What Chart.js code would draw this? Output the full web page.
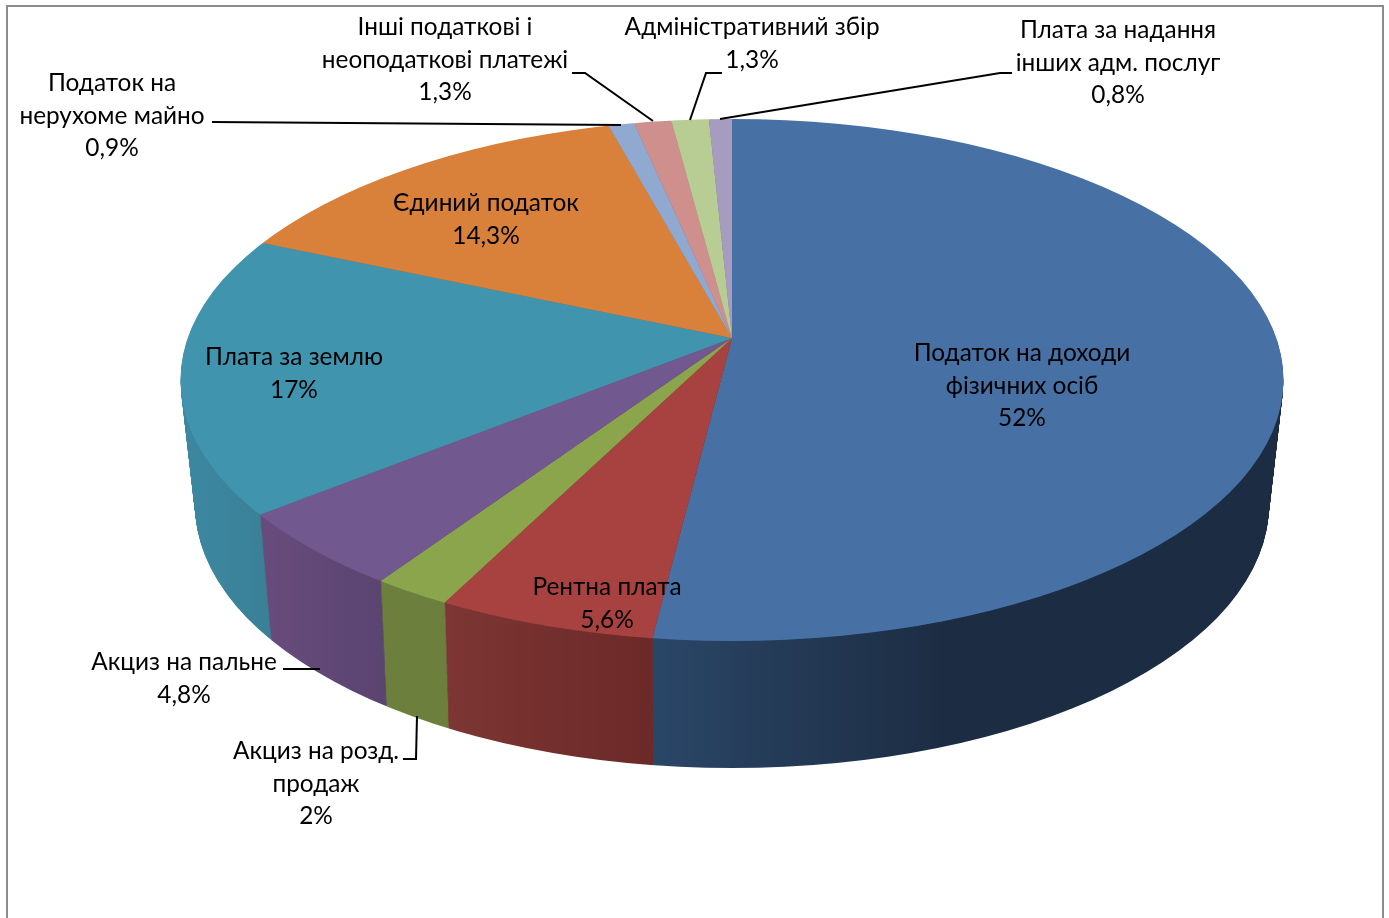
<!DOCTYPE html>
<html>
<head>
<meta charset="utf-8">
<title>Структура доходів</title>
<script src="https://cdn.jsdelivr.net/npm/chart.js@4"></script>
<style>
  html, body { margin: 0; padding: 0; background: #fff; }
  canvas { display: block; }
</style>
</head>
<body>
<canvas id="pieChart" width="1389" height="918"></canvas>
<script>
// Data
const categories = [
    ['Податок на доходи', 'фізичних осіб'],
    ['Рентна плата'],
    ['Акциз на розд.', 'продаж'],
    ['Акциз на пальне'],
    ['Плата за землю'],
    ['Єдиний податок'],
    ['Податок на', 'нерухоме майно'],
    ['Інші податкові і', 'неоподаткові платежі'],
    ['Адміністративний збір'],
    ['Плата за надання', 'інших адм. послуг']
];
const shares = [52, 5.6, 2, 4.8, 17, 14.3, 0.9, 1.3, 1.3, 0.8];

// Colours of the top face and of the side wall (left to right shade)
const topColors = ['#4771a5', '#a74240', '#8aa54b', '#71588f', '#4094ae', '#d9803a', '#8fa9d0', '#cf8f8d', '#b8cd93', '#a89bc0'];
const wallShades = [
    [655, 950, '#2a4667', '#1c2c42'],
    [443, 655, '#7d3634', '#6b2927'],
    [385, 450, '#6c7f3c', '#6c7f3c'],
    [267, 385, '#674b7c', '#5a4470'],
    [185, 267, '#3c88a1', '#3a8097'],
    [185, 610, '#a05f2a', '#a05f2a'],
    [610, 640, '#6a7f9c', '#6a7f9c'],
    [640, 672, '#9a6a68', '#9a6a68'],
    [672, 708, '#89986d', '#89986d'],
    [708, 732, '#7d738f', '#7d738f']
];

// Geometry of the tilted pie: top ellipse and bottom ellipse, with the apex of each
const centerX = 732;
const tilt = 1 / 2.1;
const topFace = { apexY: 338, cy: 380, rx: 551.5, ry: 261 };
const bottomFace = { apexY: 467, cy: 505, rx: 537, ry: 263 };
const wallLayers = 130;

// Text placement: centre x and y of the first line, per slice
const labelSpots = [
    [1022, 353], [607, 587], [316, 751], [184, 662], [294, 357],
    [486, 203], [112, 83], [445, 27], [752, 27], [1118, 30]
];
const lineHeight = 32.8;
const labelFont = '24.4px Lato, "Noto Sans", sans-serif';

const leaderLines = [
    [[212, 122], [621, 125]],
    [[572, 73], [585, 73], [653, 121]],
    [[722, 73], [706, 73], [690, 120]],
    [[1012, 73], [1000, 73], [720, 119]],
    [[283, 669], [320, 669]],
    [[403, 759], [416, 759], [417, 716]]
];

function drawLayer(chart, face, fills) {
    const ctx = chart.ctx;
    ctx.save();
    ctx.beginPath();
    ctx.ellipse(centerX, face.cy, face.rx, face.ry, 0, 0, Math.PI * 2);
    ctx.clip();
    // squash the arcs around this layer's apex, the ellipse cuts them to shape
    ctx.translate(centerX, face.apexY);
    ctx.scale(1, tilt);
    ctx.translate(-centerX, -topFace.apexY);
    chart.getDatasetMeta(0).data.forEach(function(arc, i) {
        const saved = arc.options;
        arc.options = Object.assign({}, saved, { backgroundColor: fills[i], borderWidth: 0 });
        arc.draw(ctx);
        arc.options = saved;
    });
    ctx.restore();
}

const tiltedPie = {
    id: 'tiltedPie',
    beforeDatasetsDraw(chart) {
        const wallFills = wallShades.map(function(s) {
            const g = chart.ctx.createLinearGradient(s[0], 0, s[1], 0);
            g.addColorStop(0, s[2]);
            g.addColorStop(1, s[3]);
            return g;
        });
        // side wall, stacked from the bottom up
        for (let n = wallLayers; n > 0; n--) {
            const t = n / wallLayers;
            drawLayer(chart, {
                apexY: topFace.apexY + (bottomFace.apexY - topFace.apexY) * t,
                cy: topFace.cy + (bottomFace.cy - topFace.cy) * t,
                rx: topFace.rx + (bottomFace.rx - topFace.rx) * t,
                ry: topFace.ry + (bottomFace.ry - topFace.ry) * t
            }, wallFills);
        }
        drawLayer(chart, topFace, topColors);
        return false; // already drawn above
    },
    afterDraw(chart) {
        const ctx = chart.ctx;
        ctx.save();

        // frame, open at the bottom
        ctx.strokeStyle = '#8c8c8c';
        ctx.lineWidth = 2;
        ctx.beginPath();
        ctx.moveTo(7, 918);
        ctx.lineTo(7, 6);
        ctx.lineTo(1383, 6);
        ctx.lineTo(1383, 918);
        ctx.stroke();

        ctx.strokeStyle = '#000';
        ctx.lineWidth = 2;
        leaderLines.forEach(function(line) {
            ctx.beginPath();
            line.forEach(function(p, i) {
                if (i === 0) ctx.moveTo(p[0], p[1]);
                else ctx.lineTo(p[0], p[1]);
            });
            ctx.stroke();
        });

        ctx.fillStyle = '#000';
        ctx.font = labelFont;
        ctx.textAlign = 'center';
        ctx.textBaseline = 'middle';
        chart.data.labels.forEach(function(lines, i) {
            const spot = labelSpots[i];
            const value = String(chart.data.datasets[0].data[i]).replace('.', ',') + '%';
            lines.concat(value).forEach(function(text, row) {
                ctx.fillText(text, spot[0], spot[1] + row * lineHeight);
            });
        });
        ctx.restore();
    }
};

new Chart(document.getElementById('pieChart'), {
    type: 'pie',
    data: {
        labels: categories,
        datasets: [{
            data: shares,
            backgroundColor: topColors,
            borderWidth: 0
        }]
    },
    options: {
        responsive: false,
        animation: false,
        radius: 1500,
        layout: { padding: { left: 75, bottom: 242 } },
        plugins: {
            legend: { display: false },
            tooltip: { enabled: false }
        }
    },
    plugins: [tiltedPie]
});
</script>
</body>
</html>
